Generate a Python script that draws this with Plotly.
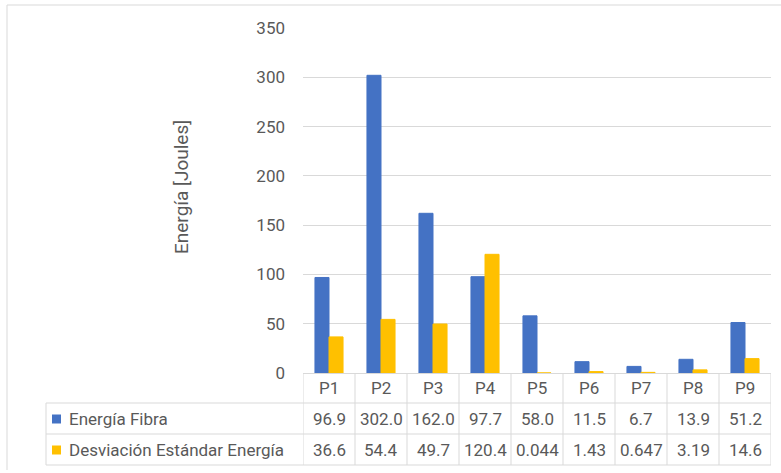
import plotly.graph_objects as go

categories = ["P1", "P2", "P3", "P4", "P5", "P6", "P7", "P8", "P9"]
energia_fibra = [96.9, 302.0, 162.0, 97.7, 58.0, 11.5, 6.7, 13.9, 51.2]
desviacion = [36.6, 54.4, 49.7, 120.4, 0.044, 1.43, 0.647, 3.19, 14.6]
energia_fibra_labels = ["96.9", "302.0", "162.0", "97.7", "58.0", "11.5", "6.7", "13.9", "51.2"]
desviacion_labels = ["36.6", "54.4", "49.7", "120.4", "0.044", "1.43", "0.647", "3.19", "14.6"]
series_names = ["Energía Fibra", "Desviación Estándar Energía"]
y_ticks = [0, 50, 100, 150, 200, 250, 300, 350]

BLUE = "#4472C4"
YELLOW = "#FFC000"
TXT = "#595959"
GRID = "#D9D9D9"
FONT = "Roboto"

W, H = 781, 473
L, R, T, B = 303, 10, 28, 100
PW, PH = W - L - R, H - T - B


def px(x):
    return (x - L) / PW


def py(y):
    return (H - B - y) / PH


fig = go.Figure()
fig.add_trace(go.Bar(x=categories, y=energia_fibra, name=series_names[0], marker_color=BLUE,
                     marker_line=dict(color=BLUE, width=1)))
fig.add_trace(go.Bar(x=categories, y=desviacion, name=series_names[1], marker_color=YELLOW,
                     marker_line=dict(color=YELLOW, width=1)))

shapes = []
annotations = []
n = len(categories)
line = dict(color=GRID, width=1)

# outer frame (top and left)
shapes.append(dict(type="line", xref="paper", yref="paper", x0=px(7), x1=px(790), y0=py(5), y1=py(5), line=line))
shapes.append(dict(type="line", xref="paper", yref="paper", x0=px(7), x1=px(7), y0=py(5), y1=py(470), line=line))

# table horizontal lines
for yy in [403, 434, 465]:
    shapes.append(dict(type="line", xref="paper", yref="paper", x0=px(46), x1=1, y0=py(yy), y1=py(yy), line=line))
# table vertical lines
for i in range(n + 1):
    shapes.append(dict(type="line", xref="x", yref="paper", x0=i - 0.5, x1=i - 0.5, y0=0, y1=py(465), line=line))
shapes.append(dict(type="line", xref="paper", yref="paper", x0=px(46), x1=px(46), y0=py(403), y1=py(465), line=line))

# legend keys
for yc, col in [(419, BLUE), (450, YELLOW)]:
    shapes.append(dict(type="rect", xref="paper", yref="paper", x0=px(52), x1=px(61), y0=py(yc - 4.5), y1=py(yc + 4.5),
                       fillcolor=col, line=dict(width=0)))

tf = dict(family=FONT, size=17, color=TXT)
for i, c in enumerate(categories):
    annotations.append(dict(x=c, xref="x", yref="paper", y=py(388), text=c, showarrow=False, font=tf,
                            xanchor="center", yanchor="middle"))
    annotations.append(dict(x=c, xref="x", yref="paper", y=py(419), text=energia_fibra_labels[i], showarrow=False,
                            font=tf, xanchor="center", yanchor="middle"))
    annotations.append(dict(x=c, xref="x", yref="paper", y=py(450), text=desviacion_labels[i], showarrow=False,
                            font=tf, xanchor="center", yanchor="middle"))
annotations.append(dict(x=px(67), xref="paper", yref="paper", y=py(419), text=series_names[0], showarrow=False,
                        font=tf, xanchor="left", yanchor="middle"))
annotations.append(dict(x=px(67), xref="paper", yref="paper", y=py(450), text=series_names[1], showarrow=False,
                        font=tf, xanchor="left", yanchor="middle"))
annotations.append(dict(x=px(181), xref="paper", yref="paper", y=py(187), text="Energía [Joules]", showarrow=False,
                        textangle=-90, font=dict(family=FONT, size=19, color=TXT),
                        xanchor="center", yanchor="middle"))

fig.update_layout(
    width=W, height=H,
    margin=dict(l=L, r=R, t=T, b=B, autoexpand=False),
    paper_bgcolor="white", plot_bgcolor="white",
    barmode="group", bargap=0.46, bargroupgap=0,
    showlegend=False,
    shapes=shapes, annotations=annotations,
    font=dict(family=FONT, color=TXT),
)
fig.update_xaxes(showticklabels=False, showline=True, linecolor=GRID, linewidth=1, ticks="",
                 showgrid=False, range=[-0.5, n - 0.5])
fig.update_yaxes(range=[0, 350], tickvals=y_ticks, showgrid=True, gridcolor=GRID, gridwidth=1,
                 zeroline=False, showline=False, ticks="", ticklabelstandoff=17,
                 tickfont=dict(family=FONT, size=17, color=TXT))

fig.write_html("out.html", config={"displayModeBar": False},
               post_script="document.body.style.margin='0px';document.body.style.overflow='hidden';")
